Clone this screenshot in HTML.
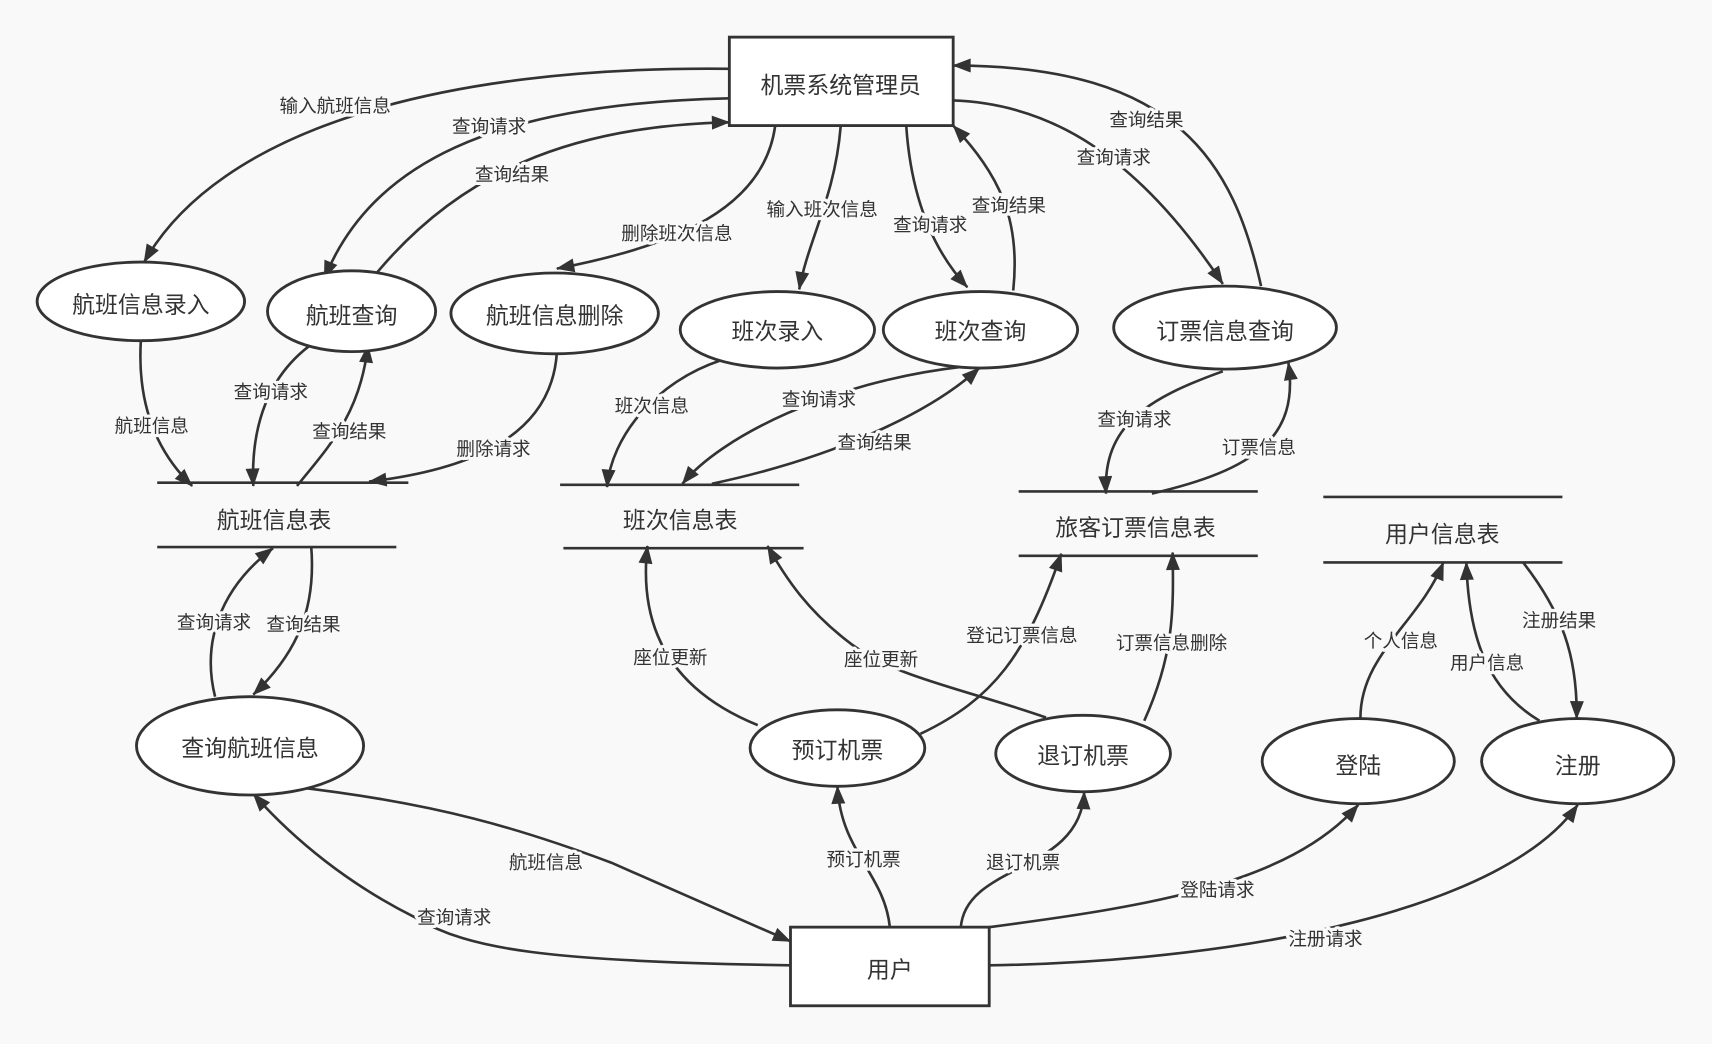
<!DOCTYPE html>
<html><head><meta charset="utf-8"><style>
html,body{margin:0;padding:0;background:#f9f9f9;}
svg{display:block;}
text{font-family:"Liberation Sans","Noto Sans CJK SC",sans-serif;fill:#333;}
.n{font-size:21px;text-anchor:middle;dominant-baseline:central;}
.l{font-size:17px;text-anchor:middle;dominant-baseline:central;stroke:#f9f9f9;stroke-width:6px;paint-order:stroke;stroke-linejoin:round;}
.e path{fill:none;stroke:#333;stroke-width:2.4;marker-end:url(#a);}
.s{fill:#fff;stroke:#333;stroke-width:2.6;}
.ln{stroke:#333;stroke-width:2.4;}
</style></head><body>
<svg width="1712" height="1044" viewBox="0 0 1568 956" preserveAspectRatio="none">
<defs><marker id="a" viewBox="0 0 10 10" refX="9" refY="5" markerWidth="8" markerHeight="8" markerUnits="userSpaceOnUse" orient="auto" style="overflow:visible"><path d="M-11,-3 L10,5 L-11,13 Z" fill="#333"/></marker></defs>
<rect width="1568" height="956" fill="#f9f9f9"/>
<g class="e">
<path d="M668,63 C400,60 200,120 132,240"/>
<path d="M668,90 C450,95 340,150 297,255"/>
<path d="M345,250 C420,160 520,115 668,112"/>
<path d="M710,115 C700,190 620,225 510,246"/>
<path d="M770,115 C765,180 740,220 732,265"/>
<path d="M830,115 C835,190 860,235 886,263"/>
<path d="M928,266 C935,200 915,160 873,115"/>
<path d="M873,92 C960,95 1040,140 1120,260"/>
<path d="M1155,262 C1130,150 1080,60 873,60"/>
<path d="M129,312 C125,380 150,420 176,445"/>
<path d="M283,317 C240,350 230,400 232,445"/>
<path d="M272,445 C300,410 330,380 337,316"/>
<path d="M510,323 C505,400 430,430 338,441"/>
<path d="M660,330 C600,350 560,400 556,446"/>
<path d="M880,336 C760,350 660,400 625,443"/>
<path d="M652,443 C760,420 850,380 897,337"/>
<path d="M1120,340 C1050,365 1010,390 1013,452"/>
<path d="M1055,452 C1150,430 1190,400 1180,332"/>
<path d="M197,638 C185,590 200,540 250,502"/>
<path d="M285,500 C290,560 270,600 232,636"/>
<path d="M694,664 C610,630 585,570 593,500"/>
<path d="M958,657 C880,630 820,620 780,590 C740,560 720,530 703,500"/>
<path d="M843,672 C910,640 940,600 972,507"/>
<path d="M1048,660 C1075,600 1075,560 1074,506"/>
<path d="M1246,659 C1245,600 1300,570 1322,515"/>
<path d="M1410,660 C1360,630 1345,580 1343,515"/>
<path d="M1395,515 C1430,560 1445,600 1444,658"/>
<path d="M724,884 C500,880 430,870 380,840 C320,810 270,770 232,727"/>
<path d="M265,720 C400,735 480,760 560,790 L724,862"/>
<path d="M815,849 C810,800 770,780 767,720"/>
<path d="M880,849 C885,790 990,800 993,725"/>
<path d="M906,849 C1050,830 1180,810 1244,737"/>
<path d="M906,884 C1150,880 1380,830 1445,737"/>
</g>
<rect class="s" x="668" y="34" width="205" height="81"/><text class="n" x="770" y="78">机票系统管理员</text>
<rect class="s" x="724" y="849" width="182" height="72"/><text class="n" x="815" y="888">用户</text>
<ellipse class="s" cx="129" cy="276" rx="95" ry="36"/><text class="n" x="129" y="279">航班信息录入</text>
<ellipse class="s" cx="322" cy="285" rx="77" ry="37"/><text class="n" x="322" y="289">航班查询</text>
<ellipse class="s" cx="508" cy="287" rx="95" ry="37"/><text class="n" x="508" y="289">航班信息删除</text>
<ellipse class="s" cx="712" cy="302" rx="89" ry="35"/><text class="n" x="712" y="303">班次录入</text>
<ellipse class="s" cx="898" cy="302" rx="89" ry="35"/><text class="n" x="898" y="303">班次查询</text>
<ellipse class="s" cx="1122" cy="300" rx="102" ry="38"/><text class="n" x="1122" y="303">订票信息查询</text>
<ellipse class="s" cx="229" cy="683" rx="104" ry="45"/><text class="n" x="229" y="685">查询航班信息</text>
<ellipse class="s" cx="767" cy="685" rx="80" ry="35"/><text class="n" x="767" y="687">预订机票</text>
<ellipse class="s" cx="992" cy="690" rx="80" ry="35"/><text class="n" x="992" y="692">退订机票</text>
<ellipse class="s" cx="1244" cy="697" rx="88" ry="39"/><text class="n" x="1244" y="701">登陆</text>
<ellipse class="s" cx="1445" cy="697" rx="88" ry="39"/><text class="n" x="1445" y="701">注册</text>
<line class="ln" x1="144" y1="442" x2="374" y2="442"/><line class="ln" x1="144" y1="501" x2="363" y2="501"/><text class="n" x="251" y="476">航班信息表</text>
<line class="ln" x1="513" y1="444" x2="732" y2="444"/><line class="ln" x1="516" y1="502" x2="736" y2="502"/><text class="n" x="623" y="476">班次信息表</text>
<line class="ln" x1="933" y1="450" x2="1152" y2="450"/><line class="ln" x1="933" y1="509" x2="1152" y2="509"/><text class="n" x="1040" y="483">旅客订票信息表</text>
<line class="ln" x1="1212" y1="455" x2="1431" y2="455"/><line class="ln" x1="1212" y1="515" x2="1431" y2="515"/><text class="n" x="1321" y="489">用户信息表</text>
<g>
<text class="l" x="307" y="97">输入航班信息</text>
<text class="l" x="448" y="116">查询请求</text>
<text class="l" x="469" y="160">查询结果</text>
<text class="l" x="620" y="214">删除班次信息</text>
<text class="l" x="753" y="192">输入班次信息</text>
<text class="l" x="852" y="206">查询请求</text>
<text class="l" x="924" y="188">查询结果</text>
<text class="l" x="1020" y="144">查询请求</text>
<text class="l" x="1050" y="110">查询结果</text>
<text class="l" x="139" y="390">航班信息</text>
<text class="l" x="248" y="359">查询请求</text>
<text class="l" x="320" y="395">查询结果</text>
<text class="l" x="452" y="411">删除请求</text>
<text class="l" x="597" y="372">班次信息</text>
<text class="l" x="750" y="366">查询请求</text>
<text class="l" x="801" y="405">查询结果</text>
<text class="l" x="1039" y="384">查询请求</text>
<text class="l" x="1153" y="410">订票信息</text>
<text class="l" x="196" y="570">查询请求</text>
<text class="l" x="278" y="572">查询结果</text>
<text class="l" x="614" y="602">座位更新</text>
<text class="l" x="807" y="604">座位更新</text>
<text class="l" x="936" y="582">登记订票信息</text>
<text class="l" x="1073" y="589">订票信息删除</text>
<text class="l" x="1283" y="587">个人信息</text>
<text class="l" x="1362" y="607">用户信息</text>
<text class="l" x="1428" y="568">注册结果</text>
<text class="l" x="416" y="840">查询请求</text>
<text class="l" x="500" y="790">航班信息</text>
<text class="l" x="791" y="787">预订机票</text>
<text class="l" x="937" y="790">退订机票</text>
<text class="l" x="1115" y="815">登陆请求</text>
<text class="l" x="1214" y="860">注册请求</text>
</g>
</svg>
</body></html>
